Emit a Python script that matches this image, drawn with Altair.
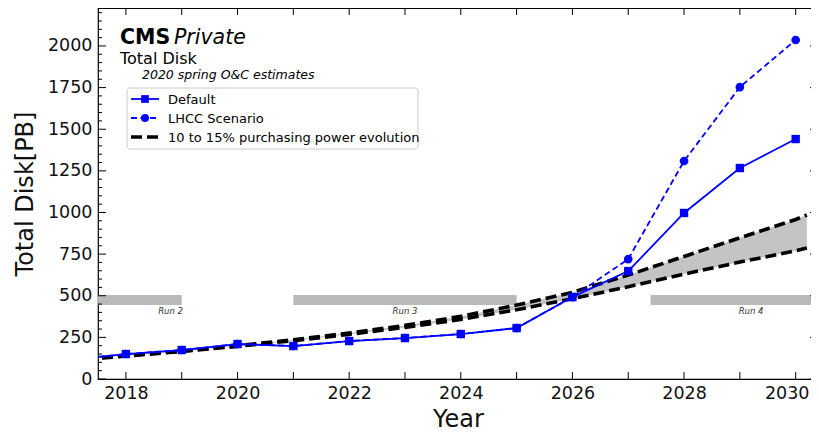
import altair as alt
import pandas as pd

# ---------------- data ----------------
years = [2017, 2018, 2019, 2020, 2021, 2022, 2023, 2024, 2025, 2026, 2027, 2028, 2029, 2030]
default_disk = [115, 150, 174, 210, 198, 228, 246, 270, 306, 492, 648, 997, 1267, 1441]
lhcc_disk = [115, 150, 174, 210, 198, 228, 246, 270, 306, 492, 720, 1309, 1753, 2036]

band_years = [2017, 2018, 2019, 2020, 2021, 2022, 2023, 2024, 2025, 2026, 2027, 2028, 2029, 2030, 2030.2]
band_upper = [112, 140, 168, 200, 236, 276, 322, 376, 444, 520, 624, 736, 848, 958, 985]
band_lower = [110, 138, 165, 196, 230, 268, 310, 358, 416, 482, 554, 630, 702, 770, 787]

run_names = ["Run 2", "Run 3", "Run 4"]
run_start = [2015.5, 2021.0, 2027.4]
run_end = [2019.0, 2025.0, 2031.5]
run_label_x = [2018.8, 2023.0, 2029.2]
run_low = [445, 445, 445]
run_high = [505, 505, 505]
run_label_y = [408, 408, 408]

x_tick_years = list(range(2018, 2031))
x_label_years = list(range(2018, 2031, 2))
y_major = list(range(0, 2001, 250))
y_minor = [v for v in range(0, 2201, 50) if v % 250 != 0]

# ---------------- frames ----------------
series = pd.DataFrame({"year": years, "default": default_disk, "lhcc": lhcc_disk})
band = pd.DataFrame({"year": band_years, "upper": band_upper, "lower": band_lower})
runs = pd.DataFrame({"name": run_names, "start": run_start, "end": run_end,
                     "lx": run_label_x, "low": run_low, "high": run_high, "ly": run_label_y})

W, H = 720, 371
XD = [2017.5, 2030.4]
YD = [0, 2228]
FONT = "DejaVu Sans"
BLUE = "#0000ff"

xs = alt.Scale(domain=XD, nice=False, zero=False)
ys = alt.Scale(domain=YD, nice=False, zero=True)

X = alt.X("year:Q", scale=xs,
          axis=alt.Axis(values=x_label_years, format="d", ticks=False, domain=False, grid=False,
                        labelFontSize=17.5, labelPadding=5, labelColor="#111",
                        labelOffset={"condition": {"test": "datum.value >= 2030", "value": -9}, "value": 0},
                        title="Year", titleFontSize=24, titleFontWeight="normal",
                        titlePadding=6, titleColor="#111"))
Yax = alt.Axis(values=y_major, format="d", ticks=False, domain=False, grid=False,
               labelFontSize=17.5, labelPadding=6, labelColor="#111",
               title="Total Disk[PB]", titleFontSize=24, titleFontWeight="normal",
               titlePadding=10, titleColor="#111")

area = alt.Chart(band).mark_area(color="#c4c4c4", clip=True).encode(
    x=X, y=alt.Y("upper:Q", scale=ys, axis=Yax), y2="lower:Q")

run_bars = alt.Chart(runs).mark_rect(color="#b9b9b9", clip=True).encode(
    x=alt.X("start:Q", scale=xs), x2="end:Q",
    y=alt.Y("low:Q", scale=ys), y2="high:Q")
run_text = alt.Chart(runs).mark_text(font=FONT, fontSize=8.5, fontStyle="italic",
                                      color="#333", clip=True).encode(
    x=alt.X("lx:Q", scale=xs), y=alt.Y("ly:Q", scale=ys), text="name:N")

up_line = alt.Chart(band).mark_line(color="black", strokeWidth=3.6, strokeDash=[11, 5], clip=True).encode(
    x=alt.X("year:Q", scale=xs), y=alt.Y("upper:Q", scale=ys))
lo_line = alt.Chart(band).mark_line(color="black", strokeWidth=3.6, strokeDash=[11, 5], clip=True).encode(
    x=alt.X("year:Q", scale=xs), y=alt.Y("lower:Q", scale=ys))

lhcc_line = alt.Chart(series).mark_line(color=BLUE, strokeWidth=1.8, strokeDash=[6, 3.5], clip=True).encode(
    x=alt.X("year:Q", scale=xs), y=alt.Y("lhcc:Q", scale=ys))
lhcc_pts = alt.Chart(series).mark_point(shape="circle", filled=True, color=BLUE, size=75, opacity=1, clip=True).encode(
    x=alt.X("year:Q", scale=xs), y=alt.Y("lhcc:Q", scale=ys))
def_line = alt.Chart(series).mark_line(color=BLUE, strokeWidth=1.8, clip=True).encode(
    x=alt.X("year:Q", scale=xs), y=alt.Y("default:Q", scale=ys))
def_pts = alt.Chart(series).mark_point(shape="square", filled=True, color=BLUE, size=70, opacity=1, clip=True).encode(
    x=alt.X("year:Q", scale=xs), y=alt.Y("default:Q", scale=ys))

# inward ticks (matplotlib style)
xt = pd.DataFrame({"t": x_tick_years})
ymj = pd.DataFrame({"v": y_major})
ymn = pd.DataFrame({"v": y_minor})
tk = dict(color="black", strokeWidth=1)
ticks = [
    alt.Chart(xt).mark_rule(**tk).encode(x=alt.X("t:Q", scale=xs), y=alt.value(H), y2=alt.value(H - 7)),
    alt.Chart(xt).mark_rule(**tk).encode(x=alt.X("t:Q", scale=xs), y=alt.value(0), y2=alt.value(7)),
    alt.Chart(ymj).mark_rule(**tk).encode(y=alt.Y("v:Q", scale=ys), x=alt.value(0), x2=alt.value(8)),
    alt.Chart(ymj).mark_rule(**tk).encode(y=alt.Y("v:Q", scale=ys), x=alt.value(W - 8), x2=alt.value(W)),
    alt.Chart(ymn).mark_rule(**tk).encode(y=alt.Y("v:Q", scale=ys), x=alt.value(0), x2=alt.value(4)),
    alt.Chart(ymn).mark_rule(**tk).encode(y=alt.Y("v:Q", scale=ys), x=alt.value(W - 4), x2=alt.value(W)),
]

# annotations
one = pd.DataFrame({"k": [0]})
def txt(s, x, y, size, weight="normal", style="normal"):
    return alt.Chart(one).mark_text(text=s, font=FONT, fontSize=size, fontWeight=weight,
                                    fontStyle=style, align="left", baseline="alphabetic",
                                    color="black").encode(x=alt.value(x), y=alt.value(y))

annots = [
    txt("CMS", 22, 36, 20.5, weight="bold"),
    txt("Private", 76, 36, 20.5, style="italic"),
    txt("Total Disk", 22, 56, 16),
    txt("2020 spring O&C estimates", 44, 71, 12.5, style="italic"),
]

# legend
leg_box = alt.Chart(one).mark_rect(fill="white", stroke="#cccccc", strokeWidth=1, cornerRadius=3).encode(
    x=alt.value(29), x2=alt.value(320), y=alt.value(80), y2=alt.value(141))
leg = [
    leg_box,
    alt.Chart(one).mark_rule(color=BLUE, strokeWidth=1.8).encode(x=alt.value(33), x2=alt.value(61), y=alt.value(91)),
    alt.Chart(one).mark_point(shape="square", filled=True, color=BLUE, size=60, opacity=1).encode(x=alt.value(47), y=alt.value(91)),
    alt.Chart(one).mark_rule(color=BLUE, strokeWidth=1.8, strokeDash=[6, 3.5]).encode(x=alt.value(33), x2=alt.value(61), y=alt.value(110)),
    alt.Chart(one).mark_point(shape="circle", filled=True, color=BLUE, size=65, opacity=1).encode(x=alt.value(47), y=alt.value(110)),
    alt.Chart(one).mark_rule(color="black", strokeWidth=3.6, strokeDash=[11, 5]).encode(x=alt.value(33), x2=alt.value(61), y=alt.value(129)),
    txt("Default", 70, 96, 13),
    txt("LHCC Scenario", 70, 115, 13),
    txt("10 to 15% purchasing power evolution", 70, 134, 13),
]

chart = alt.layer(
    area, run_bars, run_text, up_line, lo_line,
    lhcc_line, def_line, lhcc_pts, def_pts,
    *ticks, *annots, *leg
).properties(
    width=W, height=H,
    autosize=alt.AutoSizeParams(type="none"),
    padding={"left": 90, "top": 0, "right": -7, "bottom": 55},
).configure(font=FONT).configure_view(stroke="black", strokeWidth=1.2)

chart.save("out.html", embed_options={"renderer": "svg", "actions": False})
